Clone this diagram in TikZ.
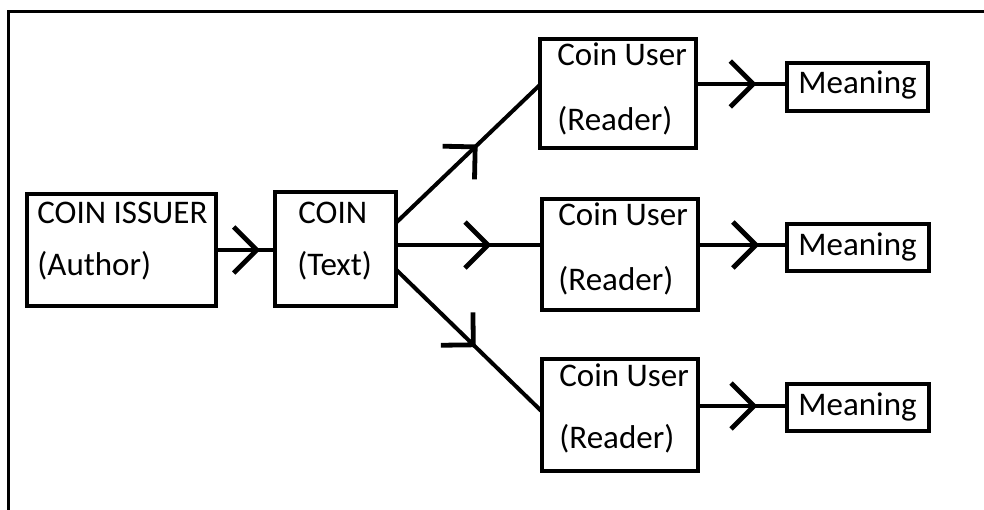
\documentclass[tikz,border=0pt]{standalone}
\usepackage{fontspec}
\setmainfont{Carlito}
\usetikzlibrary{calc,decorations.markings}

\begin{document}
\begin{tikzpicture}[x=0.5pt,y=-0.5pt,
  box/.style={draw, line width=2pt, inner sep=0pt, outer sep=0pt},
  lbl/.style={anchor=base west, inner sep=0pt, font=\fontsize{16.5}{19}\selectfont},
  flow/.style={line width=2pt, postaction={decorate},
    decoration={markings, mark=at position #1 with {
      \draw[line width=2.4pt, line join=miter] (-11.5pt,11.5pt) -- (0pt,0pt) -- (-11.5pt,-11.5pt);}}},
  frame/.style={draw, line width=1.5pt}
]
\useasboundingbox (0,0) rectangle (984,509);
\clip (0,0) rectangle (984,509);

% outer frame
\draw[frame] (8.5,11) rectangle (1100,700);

% boxes
\node[box, minimum width=189*0.5pt, minimum height=112*0.5pt] (issuer) at (121.5,250) {};
\node[box, minimum width=121*0.5pt, minimum height=114*0.5pt] (coin) at (335.5,249) {};
\node[box, minimum width=156*0.5pt, minimum height=109*0.5pt] (user1) at (618,93.5) {};
\node[box, minimum width=156*0.5pt, minimum height=111*0.5pt] (user2) at (620,254.5) {};
\node[box, minimum width=156*0.5pt, minimum height=112*0.5pt] (user3) at (620,415) {};
\node[box, minimum width=141*0.5pt, minimum height=48*0.5pt] (mean1) at (857.5,87) {};
\node[box, minimum width=142*0.5pt, minimum height=47*0.5pt] (mean2) at (858,247.5) {};
\node[box, minimum width=142*0.5pt, minimum height=47*0.5pt] (mean3) at (858,407.5) {};

% labels
\node[lbl] (issuerA) at (37,223) {COIN ISSUER};
\node[lbl] (issuerB) at (37,275) {(Author)};
\node[lbl] (coinA) at (298,223) {COIN};
\node[lbl] (coinB) at (297,275) {(Text)};
\node[lbl] (user1A) at (557,65) {Coin User};
\node[lbl] (user1B) at (557,130) {(Reader)};
\node[lbl] (user2A) at (558,225) {Coin User};
\node[lbl] (user2B) at (558,290) {(Reader)};
\node[lbl] (user3A) at (559,386) {Coin User};
\node[lbl] (user3B) at (559,448) {(Reader)};
\node[lbl] (mean1A) at (798,93) {Meaning};
\node[lbl] (mean2A) at (798,255) {Meaning};
\node[lbl] (mean3A) at (798,415) {Meaning};

% connectors
\draw[flow=0.69] (issuer.east) -- (issuer.east -| coin.west);
\draw[flow=0.55] ($(coin.north east)!0.27!(coin.south east)$) -- ($(user1.north west)!0.42!(user1.south west)$);
\draw[flow=0.63] ($(coin.north east)!0.465!(coin.south east)$) coordinate (c2) -- (c2 -| user2.west);
\draw[flow=0.53] ($(coin.north east)!0.68!(coin.south east)$) -- ($(user3.north west)!0.47!(user3.south west)$);
\draw[flow=0.63] ($(mean1.west)+(0,-3)$) coordinate (m1) (m1 -| user1.east) -- (m1);
\draw[flow=0.65] ($(mean2.west)+(0,-2.5)$) coordinate (m2) (m2 -| user2.east) -- (m2);
\draw[flow=0.63] ($(mean3.west)+(0,-1.5)$) coordinate (m3) (m3 -| user3.east) -- (m3);
\end{tikzpicture}
\end{document}
